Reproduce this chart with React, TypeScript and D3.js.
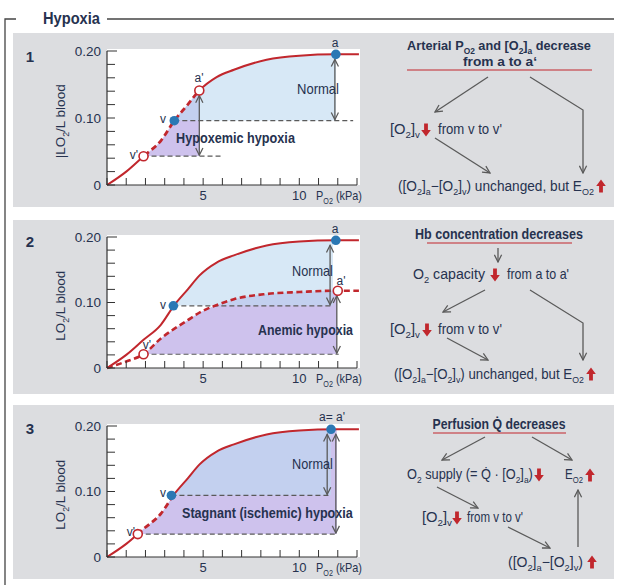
import React from 'react';
import * as d3 from 'd3';

// O2 dissociation curves (kPa -> L O2 / L blood)
const pO2 = [0, 1, 1.9, 2.8, 3.5, 4.2, 4.8, 5.7, 6.6, 8.3, 10, 11.9, 13.1];
const normalO2 = [0, 0.02, 0.043, 0.066, 0.096, 0.12, 0.141, 0.161, 0.172, 0.187, 0.193, 0.195, 0.195];
const anemicPO2 = [0, 1, 1.9, 2.8, 4.2, 4.9, 5.8, 6.6, 8.3, 10, 11.8, 13.1];
const anemicO2 = [0, 0.01, 0.021, 0.045, 0.073, 0.086, 0.097, 0.105, 0.113, 0.116, 0.118, 0.118];

const yTickValues = [0, 0.1, 0.2];
const yTickLabels = ['0', '0.10', '0.20'];
const yMinorTicks = [0, 0.02, 0.04, 0.06, 0.08, 0.1, 0.12, 0.14, 0.16, 0.18, 0.2];
const xMinorTicks = [0, 1, 2, 3, 4, 5, 6, 7, 8, 9, 10, 11, 12, 13];
const xTickLabels = [5, 10];

// marked points [kPa, O2]
const hypoxemic = { a: [11.9, 0.195], aP: [4.8, 0.141], v: [3.5, 0.096], vP: [1.9, 0.043] };
const anemic = { a: [11.9, 0.195], aP: [12.0, 0.118], v: [3.45, 0.095], vP: [1.9, 0.021] };
const stagnant = { a: [11.65, 0.195], v: [3.35, 0.094], vP: [1.6, 0.035] };

const TEXT = '#26324f';
const RED = '#c1272d';
const GRAY = '#5a5a5a';
const BLUE_DOT = '#2b78b4';
const SANS = "'Liberation Sans', Arial, sans-serif";

const xs = d3.scaleLinear().domain([0, 13]).range([107, 357]);

type Part = string | [string];

// text squeezed horizontally (by a transform) to the width
const Fit = ({ x, y, w, anchor = 'start', size = 14, weight = 'normal', children }: any) => {
  const ref = React.useRef<SVGTextElement>(null);
  const [s, setS] = React.useState(1);
  React.useLayoutEffect(() => {
    if (!ref.current || !w) return;
    const nat = ref.current.getComputedTextLength();
    if (nat > 0) setS(w / nat);
  }, [w]);
  return (
    <g transform={`translate(${x},${y}) scale(${s},1)`}>
      <text ref={ref} x={0} y={0} textAnchor={anchor} fontSize={size} fontWeight={weight} fill={TEXT} fontFamily={SANS}>
        {children}
      </text>
    </g>
  );
};

const Rich = ({ parts, size = 14, ...rest }: any) => {
  let shifted = false;
  const off = size * 0.28;
  return (
    <Fit size={size} {...rest}>
      {parts.map((p: Part, i: number) => {
        if (Array.isArray(p)) {
          const el = <tspan key={i} fontSize={size * 0.66} dy={shifted ? 0 : off}>{p[0]}</tspan>;
          shifted = true;
          return el;
        }
        const el = <tspan key={i} dy={shifted ? -off : 0}>{p}</tspan>;
        shifted = false;
        return el;
      })}
    </Fit>
  );
};

const RedArrow = ({ x, y, dir }: { x: number; y: number; dir: 'up' | 'down' }) => {
  // y = vertical centre
  const s = dir === 'down' ? 1 : -1;
  const d = `M${x - 1.9},${y - 6.5 * s} L${x + 1.9},${y - 6.5 * s} L${x + 1.9},${y} L${x + 4.8},${y} L${x},${y + 6.5 * s} L${x - 4.8},${y} L${x - 1.9},${y} Z`;
  return <path d={d} fill={RED} />;
};

const Arrow = ({ pts, both = false, color = GRAY }: any) => (
  <path
    d={d3.line()(pts) as string}
    fill="none"
    stroke={color}
    strokeWidth={1.3}
    markerEnd="url(#ah)"
    markerStart={both ? 'url(#ah)' : undefined}
  />
);

const Axes = ({ ys, label }: any) => (
  <g>
    <line x1={xs(0)} x2={xs(0)} y1={ys(0)} y2={ys(0.2)} stroke="#333" strokeWidth={1.2} />
    <line x1={xs(0)} x2={xs(13)} y1={ys(0)} y2={ys(0)} stroke="#333" strokeWidth={1.2} />
    {yMinorTicks.map((t) => (
      <line key={t} x1={xs(0)} x2={xs(0) + (t === 0.2 ? 10 : 8)} y1={ys(t)} y2={ys(t)} stroke="#333" strokeWidth={1} />
    ))}
    {xMinorTicks.map((t) => (
      <line key={t} x1={xs(t)} x2={xs(t)} y1={ys(0)} y2={ys(0) - 7} stroke="#333" strokeWidth={1} />
    ))}
    {yTickValues.map((t, i) => (
      <text key={t} x={101} y={ys(t)} dy="0.36em" textAnchor="end" fontSize={13.5} fill={TEXT} fontFamily={SANS}>
        {yTickLabels[i]}
      </text>
    ))}
    {xTickLabels.map((t) => (
      <text key={t} x={xs(t)} y={ys(0) + 15} textAnchor="middle" fontSize={13} fill={TEXT} fontFamily={SANS}>
        {t}
      </text>
    ))}
    <Rich x={316} y={ys(0) + 15} parts={['P', ['O2'], ' (kPa)']} size={13} w={46} />
    <g transform={`translate(65,${ys(0.095)}) rotate(-90)`}>
      <Rich x={0} y={0} anchor="middle" parts={[label, ['2'], '/L blood']} size={13} w={label.length > 2 ? 74 : 70} />
    </g>
  </g>
);

const Dot = ({ p, ys, open = false }: any) =>
  open ? (
    <circle cx={xs(p[0])} cy={ys(p[1])} r={4.5} fill="#fff" stroke={RED} strokeWidth={1.6} />
  ) : (
    <circle cx={xs(p[0])} cy={ys(p[1])} r={4.8} fill={BLUE_DOT} />
  );

const Lbl = ({ x, y, t, anchor = 'middle' }: any) => (
  <text x={x} y={y} textAnchor={anchor} fontSize={12} fill={TEXT} fontFamily={SANS}>{t}</text>
);

const normalPts: [number, number][] = pO2.map((p, i) => [p, normalO2[i]]);
const anemicPts: [number, number][] = anemicPO2.map((p, i) => [p, anemicO2[i]]);

const makeLine = (ys: any) =>
  d3.line<[number, number]>().x((d) => xs(d[0])).y((d) => ys(d[1])).curve(d3.curveMonotoneX);
const makeArea = (ys: any, base: number) =>
  d3.area<[number, number]>().x((d) => xs(d[0])).y0(ys(base)).y1((d) => ys(d[1])).curve(d3.curveMonotoneX);

const FillBetween = ({ id, ys, pts, base, x1, x2, color }: any) => (
  <g>
    <clipPath id={id}>
      <rect x={xs(x1)} y={ys(0.25)} width={xs(x2) - xs(x1)} height={ys(base) - ys(0.25)} />
    </clipPath>
    <path d={makeArea(ys, base)(pts) as string} fill={color} clipPath={`url(#${id})`} />
  </g>
);

const SplitCurve = ({ id, ys, pts, x1, x2, dashAll = false }: any) => {
  const d = makeLine(ys)(pts) as string;
  if (dashAll) return <path d={d} fill="none" stroke={RED} strokeWidth={2.6} strokeDasharray="6,3.5" />;
  return (
    <g>
      <clipPath id={id + 'o'}>
        <rect x={0} y={0} width={xs(x1)} height={600} />
        <rect x={xs(x2)} y={0} width={300} height={600} />
      </clipPath>
      <clipPath id={id + 'i'}>
        <rect x={xs(x1)} y={0} width={xs(x2) - xs(x1)} height={600} />
      </clipPath>
      <path d={d} fill="none" stroke={RED} strokeWidth={2} clipPath={`url(#${id}o)`} />
      <path d={d} fill="none" stroke={RED} strokeWidth={2.8} strokeDasharray="6,3.5" clipPath={`url(#${id}i)`} />
    </g>
  );
};

const PURPLE_FILL = 'rgba(120,85,205,0.36)';
const BLUE_OVER = 'rgba(188,216,240,0.6)';

const PlotText = ({ x, y, t, w, bold = false }: any) => (
  <Fit x={x} y={y} w={w} size={bold ? 15 : 14} weight={bold ? 'bold' : 'normal'}>{t}</Fit>
);

const Panel1 = () => {
  const ys = d3.scaleLinear().domain([0, 0.2]).range([185, 51]);
  const p = hypoxemic;
  return (
    <g>
      <rect x={107} y={49} width={253} height={136} fill="#fff" />
      <FillBetween id="p1p" ys={ys} pts={normalPts} base={p.vP[1]} x1={p.vP[0]} x2={p.aP[0]} color={PURPLE_FILL} />
      <FillBetween id="p1b" ys={ys} pts={normalPts} base={p.v[1]} x1={p.v[0]} x2={p.a[0]} color={BLUE_OVER} />
      <line x1={xs(p.v[0])} x2={xs(12.8)} y1={ys(p.v[1])} y2={ys(p.v[1])} stroke={GRAY} strokeDasharray="5,3" strokeWidth={1.2} />
      <line x1={xs(p.vP[0])} x2={xs(6)} y1={ys(p.vP[1])} y2={ys(p.vP[1])} stroke={GRAY} strokeDasharray="5,3" strokeWidth={1.2} />
      <SplitCurve id="c1" ys={ys} pts={normalPts} x1={p.vP[0]} x2={p.aP[0]} />
      <Arrow both pts={[[xs(11.85), ys(p.a[1]) + 5], [xs(11.85), ys(p.v[1]) - 1]]} />
      <Arrow both pts={[[xs(p.aP[0]), ys(p.aP[1]) + 5], [xs(p.aP[0]), ys(p.vP[1]) - 1]]} />
      <Axes ys={ys} label="|LO" />
      <Dot p={p.a} ys={ys} />
      <Dot p={p.v} ys={ys} />
      <Dot p={p.aP} ys={ys} open />
      <Dot p={p.vP} ys={ys} open />
      <Lbl x={335} y={47} t="a" />
      <Lbl x={199} y={82} t="a'" />
      <Lbl x={166} y={123} t="v" anchor="end" />
      <Lbl x={138} y={159} t="v'" anchor="end" />
      <PlotText x={297} y={94} t="Normal" w={42} />
      <PlotText x={176} y={143} t="Hypoxemic hypoxia" w={119} bold />
    </g>
  );
};

const Panel2 = () => {
  const ys = d3.scaleLinear().domain([0, 0.2]).range([368, 237]);
  const p = anemic;
  return (
    <g>
      <rect x={107} y={235} width={253} height={133} fill="#fff" />
      <FillBetween id="p2p" ys={ys} pts={anemicPts} base={p.vP[1]} x1={p.vP[0]} x2={11.95} color={PURPLE_FILL} />
      <FillBetween id="p2b" ys={ys} pts={normalPts} base={p.v[1]} x1={p.v[0]} x2={11.75} color={BLUE_OVER} />
      <line x1={xs(p.v[0])} x2={xs(11.7)} y1={ys(p.v[1])} y2={ys(p.v[1])} stroke={GRAY} strokeDasharray="5,3" strokeWidth={1.2} />
      <line x1={xs(p.vP[0])} x2={xs(12.05)} y1={ys(p.vP[1])} y2={ys(p.vP[1])} stroke={GRAY} strokeDasharray="5,3" strokeWidth={1.2} />
      <SplitCurve id="c2n" ys={ys} pts={normalPts} x1={0} x2={0} />
      <SplitCurve id="c2a" ys={ys} pts={anemicPts} dashAll />
      <Arrow both pts={[[xs(11.6), ys(p.a[1]) + 5], [xs(11.6), ys(p.v[1]) - 1]]} />
      <Arrow both pts={[[xs(11.95), ys(p.aP[1]) + 5], [xs(11.95), ys(p.vP[1]) - 1]]} />
      <Axes ys={ys} label="LO" />
      <Dot p={p.a} ys={ys} />
      <Dot p={p.v} ys={ys} />
      <Dot p={p.aP} ys={ys} open />
      <Dot p={p.vP} ys={ys} open />
      <Lbl x={335} y={233} t="a" />
      <Lbl x={341} y={285} t="a'" />
      <Lbl x={166} y={309} t="v" anchor="end" />
      <Lbl x={151} y={349} t="v'" anchor="end" />
      <PlotText x={292} y={276} t="Normal" w={41} />
      <PlotText x={258} y={335} t="Anemic hypoxia" w={95} bold />
    </g>
  );
};

const Panel3 = () => {
  const ys = d3.scaleLinear().domain([0, 0.2]).range([557, 426]);
  const p = stagnant;
  return (
    <g>
      <rect x={107} y={424} width={253} height={133} fill="#fff" />
      <FillBetween id="p3p" ys={ys} pts={normalPts} base={p.vP[1]} x1={p.vP[0]} x2={11.95} color={PURPLE_FILL} />
      <FillBetween id="p3b" ys={ys} pts={normalPts} base={p.v[1]} x1={p.v[0]} x2={11.65} color={BLUE_OVER} />
      <line x1={xs(p.v[0])} x2={xs(11.55)} y1={ys(p.v[1])} y2={ys(p.v[1])} stroke={GRAY} strokeDasharray="5,3" strokeWidth={1.2} />
      <line x1={xs(p.vP[0])} x2={xs(12.0)} y1={ys(p.vP[1])} y2={ys(p.vP[1])} stroke={GRAY} strokeDasharray="5,3" strokeWidth={1.2} />
      <SplitCurve id="c3" ys={ys} pts={normalPts} x1={p.vP[0]} x2={p.v[0]} />
      <Arrow both pts={[[xs(11.45), ys(p.a[1]) + 5], [xs(11.45), ys(p.v[1]) - 1]]} />
      <Arrow both pts={[[xs(11.9), ys(p.a[1]) + 5], [xs(11.9), ys(p.vP[1]) - 1]]} />
      <Axes ys={ys} label="LO" />
      <Dot p={p.a} ys={ys} />
      <Dot p={p.v} ys={ys} />
      <Dot p={p.vP} ys={ys} open />
      <Lbl x={332} y={421} t="a= a'" />
      <Lbl x={166} y={497} t="v" anchor="end" />
      <Lbl x={135} y={536} t="v'" anchor="end" />
      <PlotText x={292} y={469} t="Normal" w={41} />
      <PlotText x={182} y={518} t="Stagnant (ischemic) hypoxia" w={171} bold />
    </g>
  );
};

const O2v: Part[] = ['[O', ['2'], ']', ['v']];
const diffParts: Part[] = ['([O', ['2'], ']', ['a'], '\u2212[O', ['2'], ']', ['v'], ')'];

const Flow1 = () => (
  <g>
    <Rich x={499} y={50} anchor="middle" weight="bold" size={13} w={184} parts={['Arterial P', ['O2'], ' and [O', ['2'], ']', ['a'], '  decrease']} />
    <Rich x={500} y={66} anchor="middle" weight="bold" size={13} w={74} parts={['from a to a\u2018']} />
    <line x1={407} x2={592} y1={70} y2={70} stroke={RED} strokeWidth={1.2} />
    <Arrow pts={[[488, 77], [435, 112]]} />
    <Arrow pts={[[530, 77], [583, 110], [583, 173]]} />
    <Rich x={390} y={134} w={30} parts={O2v} />
    <RedArrow x={426} y={130} dir="down" />
    <Rich x={438} y={134} w={64} parts={["from v to v'"]} />
    <Arrow pts={[[435, 138], [490, 173]]} />
    <Rich x={398} y={191} w={196} parts={[...diffParts, ' unchanged, but E', ['O2']]} />
    <RedArrow x={601} y={186} dir="up" />
  </g>
);

const Flow2 = () => (
  <g>
    <Rich x={499} y={239} anchor="middle" weight="bold" w={168} parts={['Hb concentration decreases']} />
    <line x1={427} x2={572} y1={243} y2={243} stroke={RED} strokeWidth={1.2} />
    <Arrow pts={[[498, 248], [498, 262]]} />
    <Rich x={413} y={279} w={72} parts={['O', ['2'], ' capacity']} />
    <RedArrow x={495} y={275} dir="down" />
    <Rich x={507} y={279} w={62} parts={["from a to a'"]} />
    <Arrow pts={[[485, 290], [443, 312]]} />
    <Arrow pts={[[530, 290], [583, 323], [583, 360]]} />
    <Rich x={390} y={334} w={30} parts={O2v} />
    <RedArrow x={427} y={330} dir="down" />
    <Rich x={438} y={334} w={64} parts={["from v to v'"]} />
    <Arrow pts={[[447, 338], [488, 360]]} />
    <Rich x={394} y={379} w={190} parts={[...diffParts, ' unchanged, but E', ['O2']]} />
    <RedArrow x={591} y={374} dir="up" />
  </g>
);

const Flow3 = () => (
  <g>
    <Rich x={499} y={429} anchor="middle" weight="bold" w={133} parts={['Perfusion Q\u0307 decreases']} />
    <line x1={433} x2={566} y1={433} y2={433} stroke={RED} strokeWidth={1.2} />
    <Arrow pts={[[485, 437], [442, 460]]} />
    <Arrow pts={[[532, 437], [572, 460]]} />
    <Rich x={407} y={479} w={126} parts={['O', ['2'], ' supply (= Q\u0307 \u00b7 [O', ['2'], ']', ['a'], ')']} />
    <RedArrow x={539} y={475} dir="down" />
    <Rich x={565} y={479} w={18} parts={['E', ['O2']]} />
    <RedArrow x={590} y={475} dir="up" />
    <Arrow pts={[[437, 487], [478, 508]]} />
    <Rich x={422} y={522} w={30} parts={O2v} />
    <RedArrow x={457} y={518} dir="down" />
    <Rich x={467} y={522} w={56} parts={["from v to v'"]} />
    <Arrow pts={[[508, 527], [550, 548]]} />
    <Rich x={508} y={567} w={75} parts={diffParts} />
    <RedArrow x={592} y={562} dir="up" />
    <Arrow pts={[[578, 547], [578, 490]]} />
  </g>
);

export default function App() {
  return (
    <svg width={619} height={585} style={{ display: 'block', position: 'absolute', left: 0, top: 0 }}>
      <defs>
        <marker id="ah" viewBox="0 0 10 10" refX={9} refY={5} markerWidth={9} markerHeight={9} markerUnits="userSpaceOnUse" orient="auto-start-reverse">
          <path d="M1,1 L9,5 L1,9" fill="none" stroke={GRAY} strokeWidth={1.4} />
        </marker>
      </defs>
      <rect width={619} height={585} fill="#fff" />
      {/* frame */}
      <path d="M5,585 L5,19 L16,19" fill="none" stroke="#444" strokeWidth={1.3} />
      <line x1={107} x2={614} y1={19} y2={19} stroke="#444" strokeWidth={1.3} />
      <Fit x={43} y={24} w={57} size={16} weight="bold">Hypoxia</Fit>
      {/* panel backgrounds */}
      <rect x={13} y={33} width={601} height={174} fill="#dcdde0" />
      <rect x={13} y={220} width={601} height={174} fill="#dcdde0" />
      <rect x={13} y={405} width={601} height={174} fill="#dcdde0" />
      <text x={30} y={62} textAnchor="middle" fontSize={15} fontWeight="bold" fill={TEXT} fontFamily={SANS}>1</text>
      <text x={30} y={247} textAnchor="middle" fontSize={15} fontWeight="bold" fill={TEXT} fontFamily={SANS}>2</text>
      <text x={30} y={434} textAnchor="middle" fontSize={15} fontWeight="bold" fill={TEXT} fontFamily={SANS}>3</text>
      <Panel1 />
      <Panel2 />
      <Panel3 />
      <Flow1 />
      <Flow2 />
      <Flow3 />
    </svg>
  );
}
